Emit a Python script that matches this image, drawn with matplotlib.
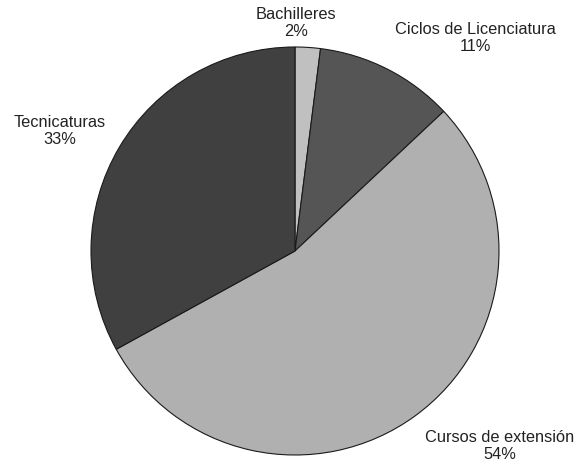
import matplotlib
matplotlib.use("Agg")
import matplotlib.pyplot as plt

categories = ["Bachilleres", "Ciclos de Licenciatura", "Cursos de extensión", "Tecnicaturas"]
shares = [2, 11, 54, 33]
colors = ["#c0c0c0", "#555555", "#b0b0b0", "#404040"]

W, H = 577, 465
fig = plt.figure(figsize=(W / 100, H / 100), dpi=100)

# pie axes placed by pixel geometry: centre (295, 251), radius 204
cx, cy, r = 295, 251, 204
ax = fig.add_axes([(cx - r) / W, (H - cy - r) / H, 2 * r / W, 2 * r / H])
ax.pie(shares, colors=colors, startangle=90, counterclock=False, radius=1,
       wedgeprops=dict(edgecolor="#1a1a1a", linewidth=0.8))
ax.set_xlim(-1, 1)
ax.set_ylim(-1, 1)
ax.set_axis_off()

# label anchor points (pixel centres of the two-line labels)
label_px = [(296, 23), (475, 38), (500, 446), (60, 131)]
for name, val, (px, py) in zip(categories, shares, label_px):
    fig.text(px / W, 1 - py / H, f"{name}\n{val}%", ha="center", va="center",
             fontsize=11.8, family="Liberation Sans", color="#222222",
             linespacing=1.2)

fig.savefig("out.png", dpi=100)
